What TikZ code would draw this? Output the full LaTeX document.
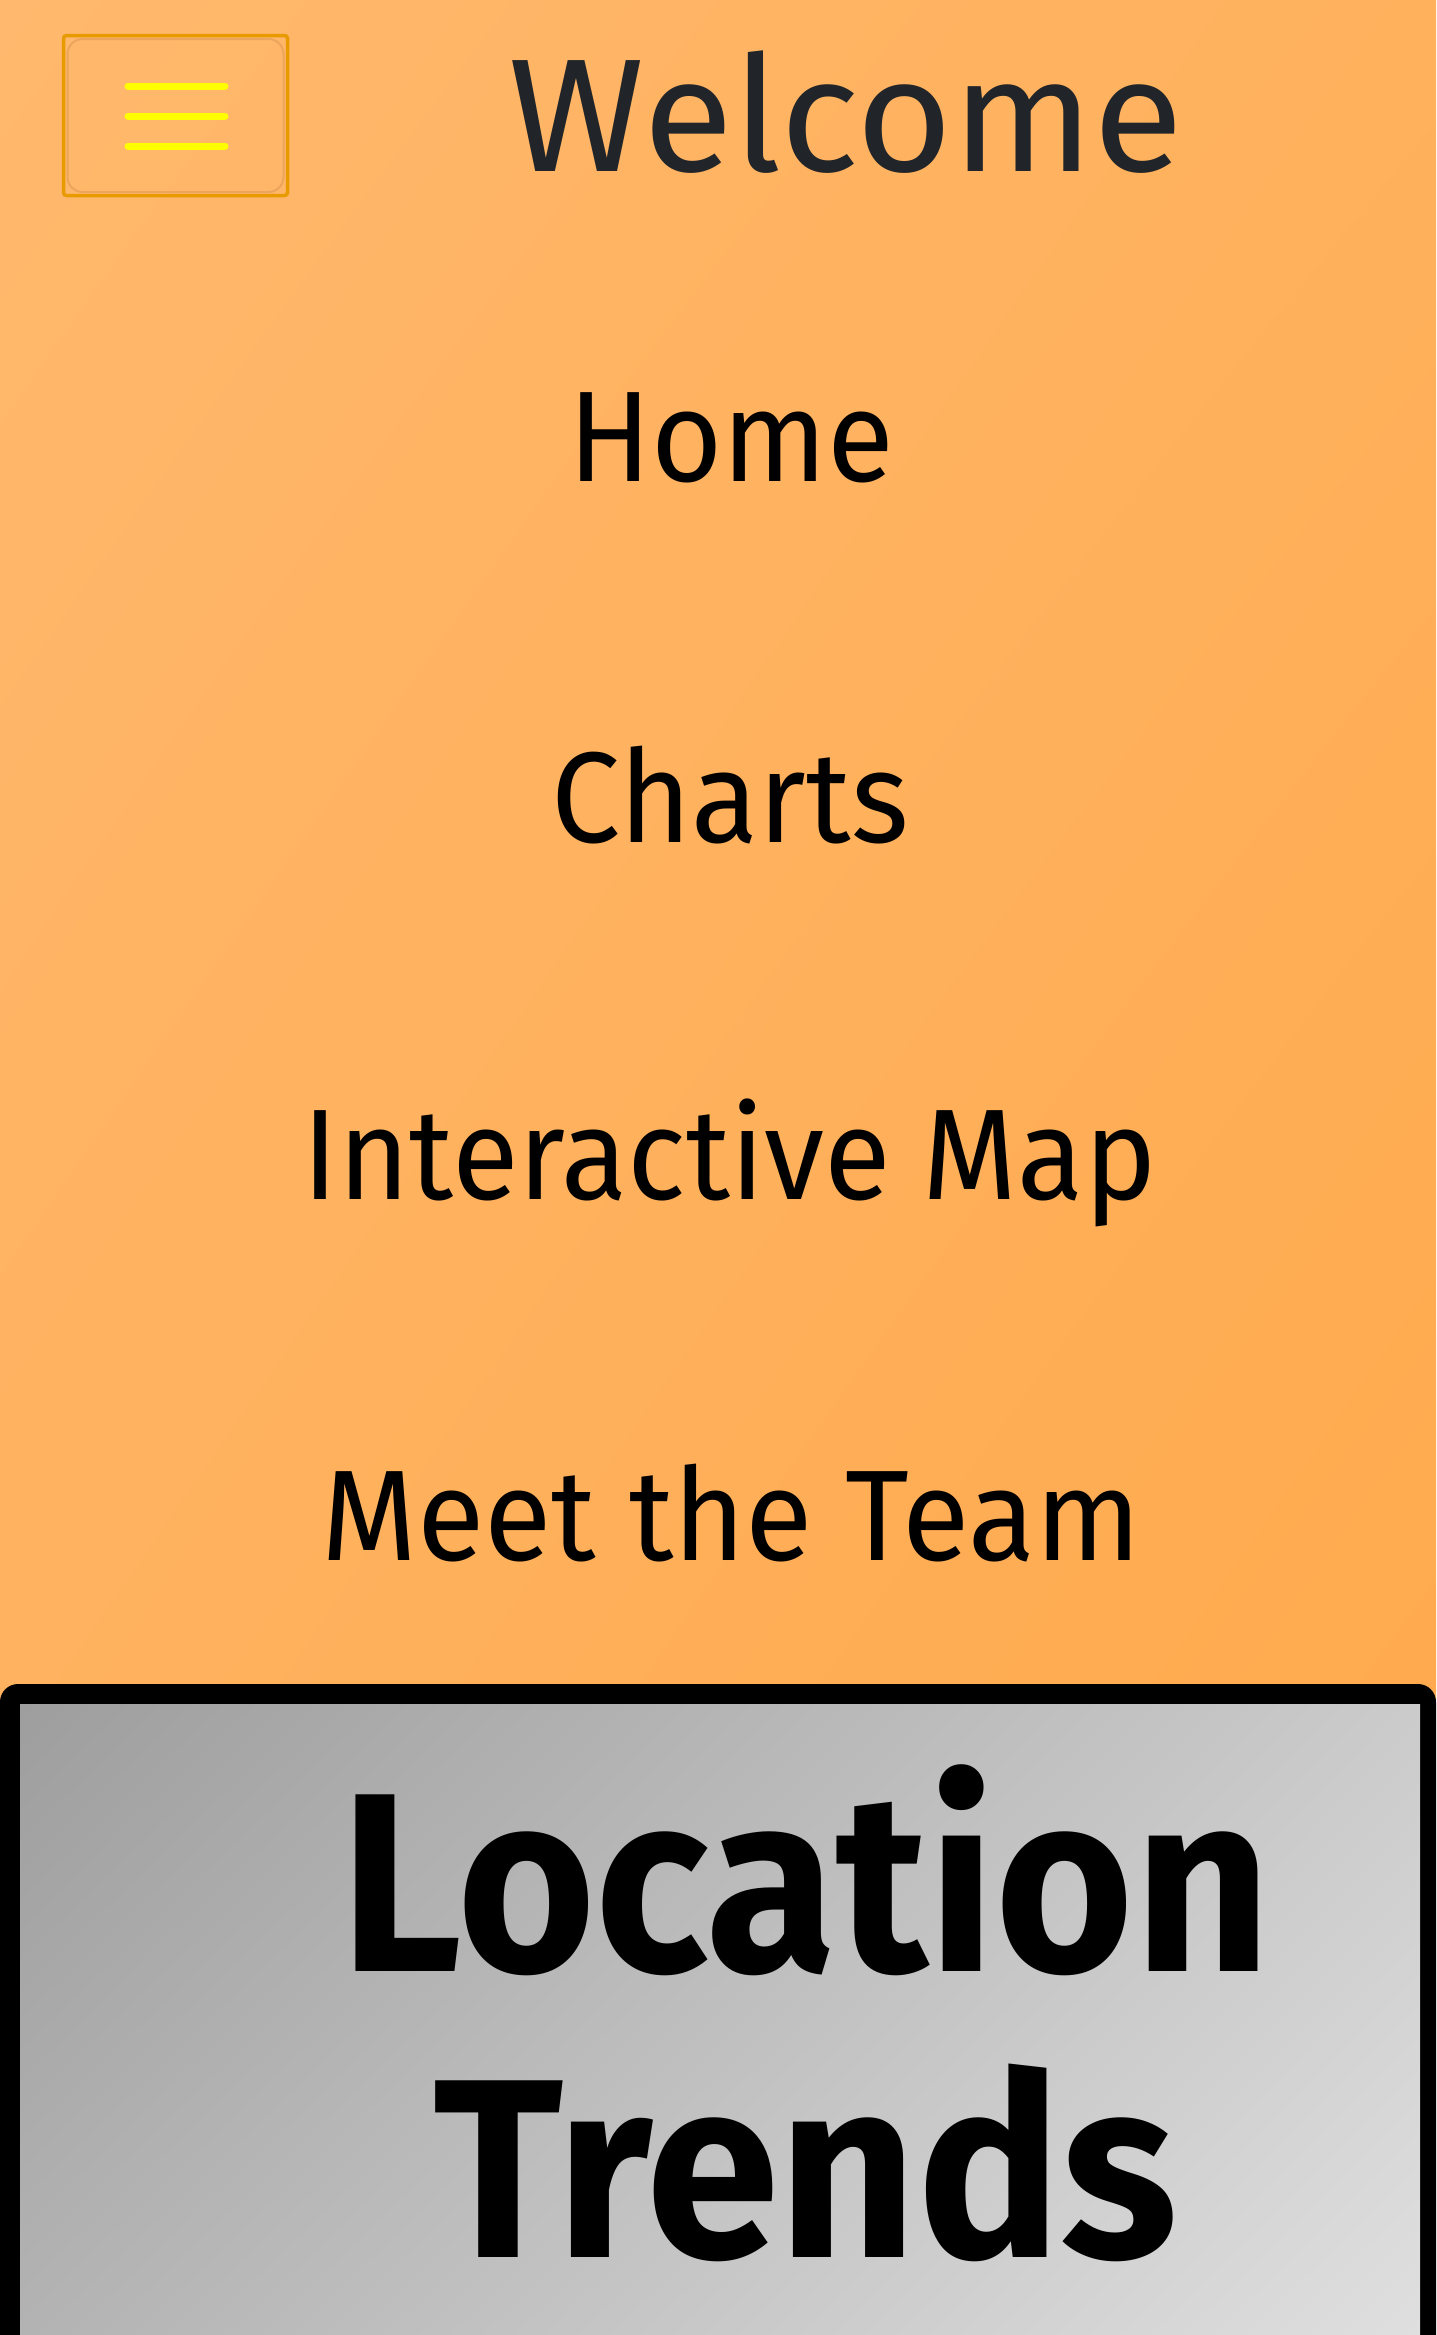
\documentclass[tikz,border=0pt]{standalone}
\usepackage{fontspec}
\setmainfont{Fira Sans}
\usepackage{graphicx}
\usetikzlibrary{shadings}
\definecolor{bgUL}{HTML}{FFB86D}
\definecolor{bgUR}{HTML}{FFB15C}
\definecolor{bgLL}{HTML}{FFB25F}
\definecolor{bgLR}{HTML}{FFAA4E}
\definecolor{grUL}{HTML}{9E9E9E}
\definecolor{grUR}{HTML}{CBCBCB}
\definecolor{grLL}{HTML}{B3B3B3}
\definecolor{grLR}{HTML}{DFDFDF}
\definecolor{btnborder}{HTML}{E89B00}
\definecolor{btninner}{HTML}{EBA55C}
\definecolor{burger}{HTML}{FFFF00}
\definecolor{titlegray}{HTML}{212529}
\newcommand{\fitw}[2]{\resizebox{#1pt}{\height}{#2}}
\begin{document}
\begin{tikzpicture}[x=1pt,y=-1pt,
  txt/.style={anchor=base, inner sep=0pt, outer sep=0pt},
  titletxt/.style={txt, text=titlegray, font=\fontsize{161}{161}\selectfont},
  navtxt/.style={txt, text=black, font=\fontsize{129}{129}\selectfont},
  bigtxt/.style={txt, text=black, font=\bfseries\fontsize{255}{255}\selectfont},
  burgerline/.style={draw=burger, line width=7pt, line cap=round}]
\clip (0,0) rectangle (1436,2335);
% header background
\shade[upper left=bgUL, upper right=bgUR, lower left=bgLL, lower right=bgLR] (0,0) rectangle (1436,1700);
% menu button
\node[draw=btnborder, line width=3.5pt, rounded corners=3pt, minimum width=224pt, minimum height=160pt, inner sep=0pt] (menu) at (175.5,115.5) {};
\node[draw=btninner, line width=2pt, rounded corners=15pt, minimum width=216pt, minimum height=153pt, inner sep=0pt] (menuin) at (175.5,115.5) {};
\coordinate (b1l) at (128,86);  \coordinate (b1r) at (225,86);
\coordinate (b2l) at (128,116); \coordinate (b2r) at (225,116);
\coordinate (b3l) at (128,146); \coordinate (b3r) at (225,146);
\draw[burgerline] (b1l) -- (b1r);
\draw[burgerline] (b2l) -- (b2r);
\draw[burgerline] (b3l) -- (b3r);
% titles
\node[titletxt] (welcome) at (846,171) {\fitw{675}{Welcome}};
\node[navtxt] (home) at (731,481) {\fitw{326}{Home}};
\node[navtxt] (charts) at (730,842) {\fitw{357}{Charts}};
\node[navtxt] (map) at (729.5,1199) {\fitw{854}{Interactive Map}};
\node[navtxt] (team) at (731.5,1560) {\fitw{820}{Meet the Team}};
% bottom card
\fill[black, rounded corners=18pt] (0,1684) rectangle (1436,2420);
\shade[upper left=grUL, upper right=grUR, lower left=grLL, lower right=grLR] (20,1704) rectangle (1420,2335);
\node[bigtxt] (loc) at (806,1971) {\fitw{930}{Location}};
\node[bigtxt] (trends) at (806,2257) {\fitw{744}{Trends}};
\end{tikzpicture}
\end{document}
